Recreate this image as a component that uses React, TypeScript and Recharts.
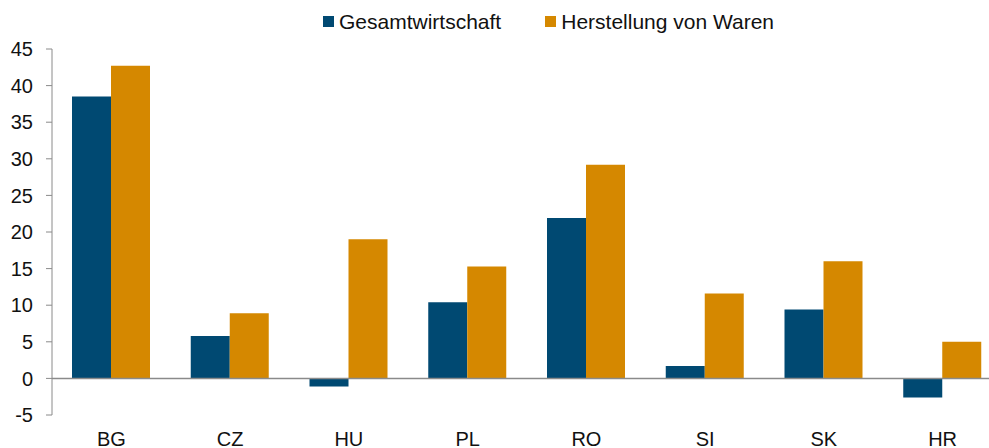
import { Bar, BarChart, Legend, ReferenceLine, XAxis, YAxis } from "recharts";

const countries = ["BG", "CZ", "HU", "PL", "RO", "SI", "SK", "HR"];
const gesamt = [38.5, 5.8, -1.1, 10.4, 21.9, 1.7, 9.4, -2.6];
const waren = [42.7, 8.9, 19.0, 15.3, 29.2, 11.6, 16.0, 5.0];
const yTicks = [-5, 0, 5, 10, 15, 20, 25, 30, 35, 40, 45];

const BLUE = "#004972";
const ORANGE = "#D58800";
const AXIS = "#8a8a8a";
const FONT = "Arial, 'Liberation Sans', sans-serif";

const data = countries.map((c, i) => ({ name: c, gesamt: gesamt[i], waren: waren[i] }));

const series = [
  { key: "gesamt", label: "Gesamtwirtschaft", color: BLUE },
  { key: "waren", label: "Herstellung von Waren", color: ORANGE },
];

function LegendBox() {
  return (
    <div style={{ display: "flex", gap: 44, fontFamily: FONT, fontSize: 21, lineHeight: "23px", color: "#111" }}>
      {series.map((s) => (
        <span key={s.key} style={{ display: "flex", alignItems: "center" }}>
          <span style={{ width: 11, height: 11, background: s.color, marginRight: 5, display: "inline-block" }} />
          {s.label}
        </span>
      ))}
    </div>
  );
}

export default function App() {
  return (
    <div style={{ position: "fixed", left: 0, top: 0, width: 989, height: 448, overflow: "hidden", background: "#fff" }}>
      <BarChart
        width={1002}
        height={448}
        data={data}
        margin={{ top: 26, right: 0, bottom: 3, left: 0 }}
        barCategoryGap={20}
        barGap={0}
      >
        <Legend
          verticalAlign="top"
          align="left"
          height={23}
          content={() => <LegendBox />}
          wrapperStyle={{ top: 10, left: 323, width: "auto" }}
        />
        <XAxis
          dataKey="name"
          axisLine={false}
          tickLine={false}
          height={30}
          tickMargin={11}
          interval={0}
          tick={{ fill: "#111", fontSize: 20, fontFamily: FONT }}
        />
        <YAxis
          width={52}
          domain={[-5, 45]}
          ticks={yTicks}
          interval={0}
          stroke={AXIS}
          tickSize={6}
          tickMargin={13}
          tick={{ fill: "#111", fontSize: 20, fontFamily: FONT }}
        />
        <ReferenceLine y={0} stroke={AXIS} strokeWidth={1.5} />
        {series.map((s) => (
          <Bar key={s.key} dataKey={s.key} fill={s.color} isAnimationActive={false} />
        ))}
      </BarChart>
    </div>
  );
}
